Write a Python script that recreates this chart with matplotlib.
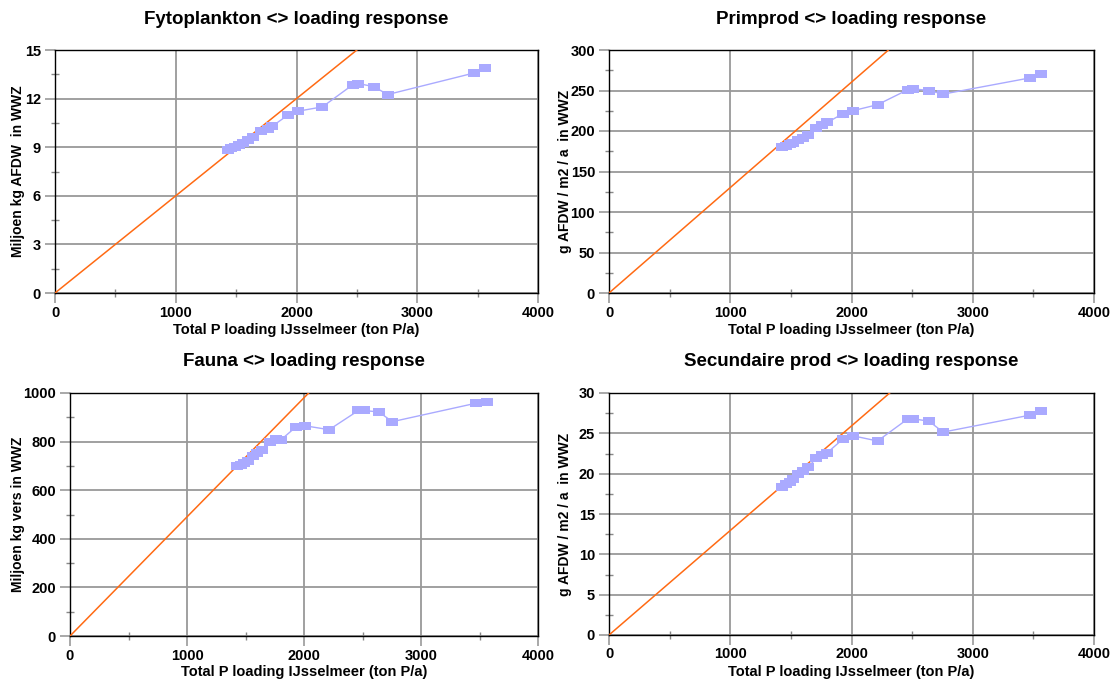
import matplotlib
matplotlib.use("Agg")
import matplotlib.pyplot as plt
from matplotlib.ticker import MultipleLocator

plt.rcParams['font.family'] = ['Liberation Sans', 'DejaVu Sans']
plt.rcParams['font.weight'] = 'bold'

# shared x values: total P loading (ton P/a)
p_loading = [1430, 1460, 1490, 1520, 1560, 1600, 1640, 1710, 1760, 1800,
             1930, 2010, 2215, 2465, 2510, 2640, 2755, 3470, 3565]

fyto = [8.83, 8.92, 9.02, 9.12, 9.25, 9.42, 9.62, 10.0, 10.15, 10.3,
        10.99, 11.22, 11.49, 12.85, 12.93, 12.74, 12.25, 13.58, 13.86]
primprod = [180, 181.5, 183.5, 185.5, 188.5, 191.5, 195, 204, 207.5, 210.5,
            221.5, 225, 232.5, 251, 252, 250, 245.5, 265.5, 270]
fauna = [698, 705, 713, 722, 740, 752, 765, 800, 812, 806,
         860, 865, 849, 928, 928, 922, 882, 958, 965]
secprod = [18.4, 18.7, 19.0, 19.4, 19.9, 20.3, 20.8, 21.9, 22.3, 22.6,
           24.3, 24.7, 24.05, 26.8, 26.8, 26.5, 25.15, 27.25, 27.75]

# proportional reference lines (end points)
ref_fyto = ([0, 2500], [0, 15])
ref_prim = ([0, 2305], [0, 300])
ref_fauna = ([0, 2040], [0, 1000])
ref_sec = ([0, 2315], [0, 30])

titles = ["Fytoplankton <> loading response", "Primprod <> loading response",
          "Fauna <> loading response", "Secundaire prod <> loading response"]
ylabels = ["Miljoen kg AFDW  in WWZ", "g AFDW / m2 / a  in WWZ",
           "Miljoen kg vers in WWZ", "g AFDW / m2 / a  in WWZ"]
xlabel = "Total P loading IJsselmeer (ton P/a)"
ymax = [15, 300, 1000, 30]
ystep = [3, 50, 200, 5]

W, H = 1111, 682
fig = plt.figure(figsize=(W / 100, H / 100), dpi=100)

# axes boxes in pixels: left, top, right, bottom
boxes = [(55, 50, 538, 293), (609, 50, 1094, 293),
         (70, 393, 538, 636), (609, 393, 1094, 635)]
ylabel_x = [18, 565, 18, 565]
title_y = [20, 20, 362, 361]
xlabel_y = [330, 330, 672, 672]

series = [fyto, primprod, fauna, secprod]
refs = [ref_fyto, ref_prim, ref_fauna, ref_sec]

rect_marker = [(-1, -0.72), (1, -0.72), (1, 0.72), (-1, 0.72), (-1, -0.72)]

for i in range(4):
    l, t, r, b = boxes[i]
    ax = fig.add_axes([l / W, 1 - b / H, (r - l) / W, (b - t) / H])
    ax.set_xlim(0, 4000)
    ax.set_ylim(0, ymax[i])
    ax.xaxis.set_major_locator(MultipleLocator(1000))
    ax.xaxis.set_minor_locator(MultipleLocator(500))
    ax.yaxis.set_major_locator(MultipleLocator(ystep[i]))
    ax.yaxis.set_minor_locator(MultipleLocator(ystep[i] / 2))
    ax.grid(True, which='major', color='#999999', lw=1.3, zorder=0)
    ax.set_axisbelow(True)
    for s in ax.spines.values():
        s.set_color('black')
        s.set_linewidth(1.0)
    ax.tick_params(which='major', direction='out', length=7, width=1.2,
                   color='#999999', labelsize=10.5, pad=3)
    ax.tick_params(axis='x', which='major', pad=2)
    ax.tick_params(which='minor', direction='inout', length=6, width=1,
                   color='#888888')
    for lab in ax.get_xticklabels() + ax.get_yticklabels():
        lab.set_fontweight('bold')
    ax.plot(refs[i][0], refs[i][1], color='#ff6a13', lw=1.1, zorder=3,
            clip_on=True)
    ax.plot(p_loading, series[i], color='#aaaaff', lw=1.0, marker=rect_marker,
            ms=8, mew=0, mfc='#aaaaff', zorder=4)
    fig.text((l + r) / 2 / W, 1 - title_y[i] / H, titles[i], fontsize=13.5,
             fontweight='bold', ha='center', va='center')
    fig.text((l + r) / 2 / W, 1 - xlabel_y[i] / H, xlabel, fontsize=10.5,
             fontweight='bold', ha='center', va='center')
    fig.text(ylabel_x[i] / W, 1 - (t + b) / 2 / H, ylabels[i], fontsize=10,
             fontweight='bold', ha='center', va='center', rotation=90)

fig.savefig("out.png", dpi=100)
